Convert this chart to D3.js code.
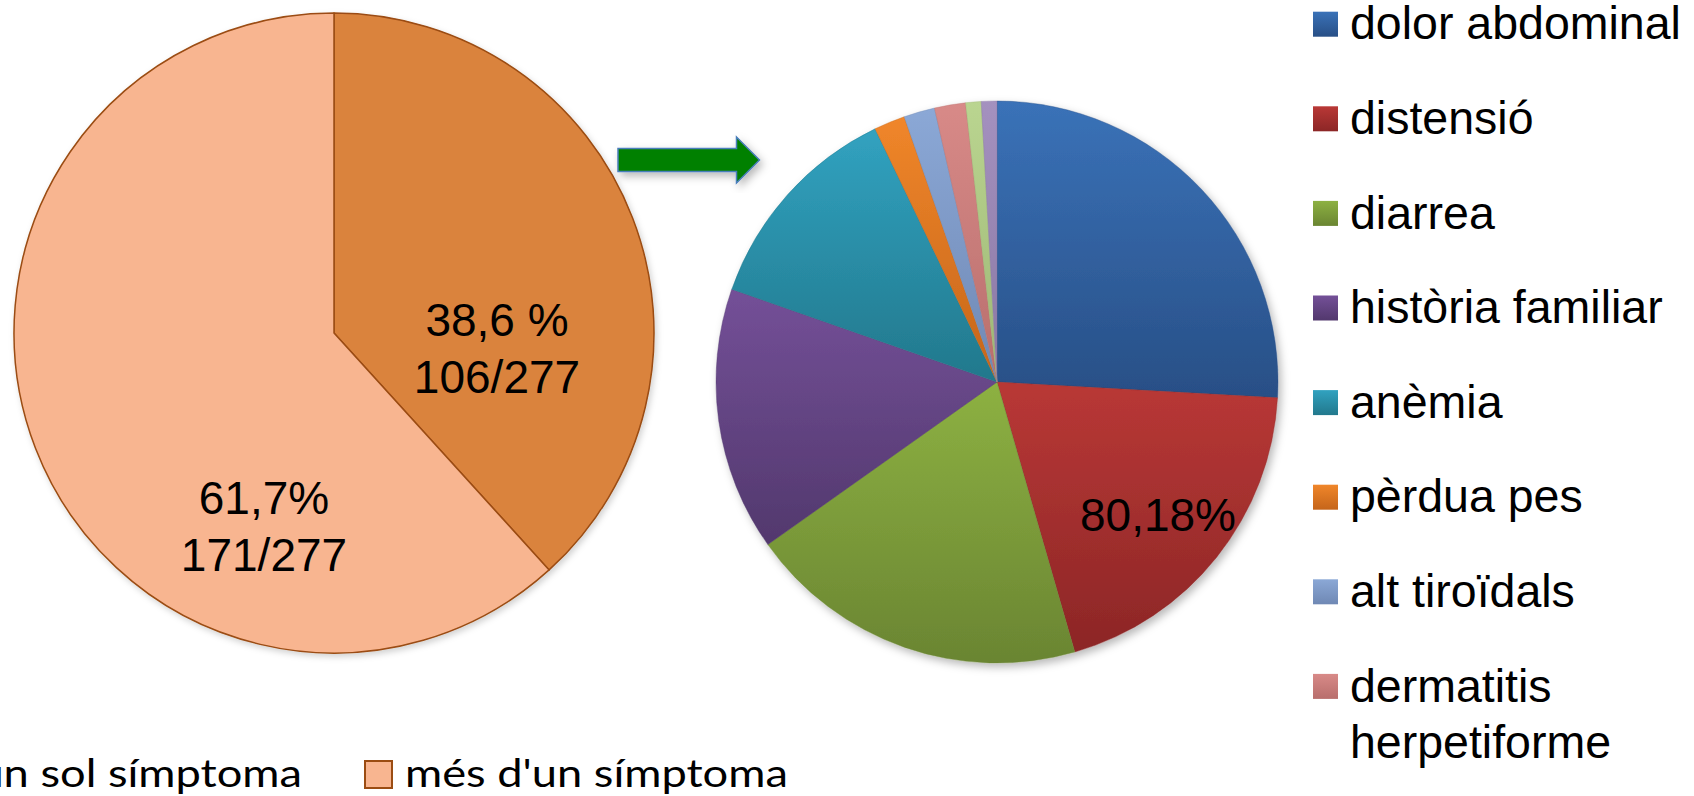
<!DOCTYPE html>
<html>
<head>
<meta charset="utf-8">
<script src="https://cdn.jsdelivr.net/npm/d3@7"></script>
<style>
  html, body { margin: 0; padding: 0; background: #ffffff; overflow: hidden; }
  svg { display: block; }
</style>
</head>
<body>
<svg id="chart" width="1694" height="796"></svg>
<script>
// Patients with a single symptom vs. more than one symptom
const groupLabels = ["un sol símptoma", "més d'un símptoma"];
const groupCounts = [106, 171];
const groupTotal = 277;
const groupPercentLabels = ["38,6 %", "61,7%"];

// Breakdown of presenting symptoms
const symptomLabels = [
  "dolor abdominal", "distensió", "diarrea", "història familiar", "anèmia",
  "pèrdua pes", "alt tiroïdals", "dermatitis herpetiforme"
];
const symptomCounts = [29, 22, 22, 17, 14, 2, 2, 2, 1, 1];
const symptomNote = "80,18%";

// Colours
const groupColors = ["#DA833E", "#F8B590"];
const groupStroke = "#9B4C12";
const symptomTop = ["#3A72B8", "#B93836", "#8DB142", "#745098", "#31A2C0",
                    "#F0862A", "#8BA8D6", "#D88A88", "#BAD590", "#A491BF"];
const symptomBottom = ["#284F86", "#8C2626", "#6A8532", "#52386D", "#22788C",
                       "#C5651A", "#6F88B4", "#B86E6C", "#9DB675", "#8A78A3"];

const svg = d3.select("#chart");
const defs = svg.append("defs");

// soft drop shadow under the pies and the arrow
const shadow = defs.append("filter").attr("id", "shadow")
  .attr("x", "-10%").attr("y", "-10%").attr("width", "130%").attr("height", "130%");
shadow.append("feDropShadow").attr("dx", 3).attr("dy", 4)
  .attr("stdDeviation", 4).attr("flood-color", "#000").attr("flood-opacity", 0.28);

const shadowLight = defs.append("filter").attr("id", "shadowLight")
  .attr("x", "-10%").attr("y", "-10%").attr("width", "130%").attr("height", "130%");
shadowLight.append("feDropShadow").attr("dx", 2).attr("dy", 3)
  .attr("stdDeviation", 3).attr("flood-color", "#000").attr("flood-opacity", 0.18);

// vertical gradients for each symptom colour
symptomTop.forEach((c, i) => {
  const g = defs.append("linearGradient").attr("id", "sg" + i)
    .attr("x1", 0).attr("y1", 0).attr("x2", 0).attr("y2", 1);
  g.append("stop").attr("offset", "0%").attr("stop-color", c);
  g.append("stop").attr("offset", "100%").attr("stop-color", symptomBottom[i]);
});

const pie = d3.pie().sort(null).value(d => d);

// ---------- left pie: one symptom vs. several ----------
const leftCx = 334, leftCy = 333, leftR = 320;
const leftArc = d3.arc().innerRadius(0).outerRadius(leftR);
const left = svg.append("g")
  .attr("transform", `translate(${leftCx},${leftCy})`)
  .attr("filter", "url(#shadowLight)");

left.selectAll("path")
  .data(pie(groupCounts))
  .join("path")
  .attr("d", leftArc)
  .attr("fill", (d, i) => groupColors[i])
  .attr("stroke", groupStroke)
  .attr("stroke-width", 1.5)
  .attr("stroke-linejoin", "round");

// slice labels: percentage and count over total
const leftLabelPos = [[163, 336], [-70, 514]];
const leftLabels = svg.append("g")
  .attr("transform", `translate(${leftCx},0)`)
  .attr("font-family", "'Liberation Sans', Arial, sans-serif")
  .attr("font-size", 46)
  .attr("fill", "#000")
  .attr("text-anchor", "middle");
groupCounts.forEach((v, i) => {
  const t = leftLabels.append("text")
    .attr("x", leftLabelPos[i][0]).attr("y", leftLabelPos[i][1]);
  t.append("tspan").attr("x", leftLabelPos[i][0]).text(groupPercentLabels[i]);
  t.append("tspan").attr("x", leftLabelPos[i][0]).attr("dy", 57).text(`${v}/${groupTotal}`);
});

// ---------- arrow linking the two pies ----------
const arrow = d3.path();
arrow.moveTo(618, 148.5);
arrow.lineTo(736.5, 148.5);
arrow.lineTo(736.5, 137);
arrow.lineTo(759.5, 160);
arrow.lineTo(736.5, 183);
arrow.lineTo(736.5, 171.5);
arrow.lineTo(618, 171.5);
arrow.closePath();
svg.append("path")
  .attr("d", arrow.toString())
  .attr("fill", "#008000")
  .attr("stroke", "#4A7EBB")
  .attr("stroke-width", 1.5)
  .attr("filter", "url(#shadow)");

// ---------- right pie: symptom breakdown ----------
const rightCx = 997, rightCy = 382, rightR = 281;
const rightArc = d3.arc().innerRadius(0).outerRadius(rightR);
const right = svg.append("g")
  .attr("transform", `translate(${rightCx},${rightCy})`)
  .attr("filter", "url(#shadow)");

right.selectAll("path")
  .data(pie(symptomCounts))
  .join("path")
  .attr("d", rightArc)
  .attr("fill", (d, i) => `url(#sg${i})`)
  .attr("stroke", (d, i) => symptomBottom[i])
  .attr("stroke-width", 0.4);

svg.append("text")
  .attr("x", rightCx + 83).attr("y", rightCy + 149)
  .attr("font-family", "'Liberation Sans', Arial, sans-serif")
  .attr("font-size", 46)
  .attr("fill", "#000")
  .text(symptomNote);

// ---------- right legend ----------
const legendX = 1313, legendY = 11.7, legendStep = 94.6, lineStep = 57;
const legendMaxWidth = 1694 - (legendX + 37) - 2;
const legend = svg.append("g")
  .attr("transform", `translate(${legendX},${legendY})`)
  .attr("font-family", "'Liberation Sans', Arial, sans-serif")
  .attr("font-size", 46.5)
  .attr("fill", "#000");

symptomLabels.forEach((label, i) => {
  const item = legend.append("g").attr("transform", `translate(0,${i * legendStep})`);
  item.append("rect")
    .attr("width", 25).attr("height", 25)
    .attr("fill", `url(#sg${i})`);
  const text = item.append("text").attr("x", 37).attr("y", 27.6);
  // wrap long labels onto further lines
  const words = label.split(" ");
  let line = [];
  let tspan = text.append("tspan").attr("x", 37);
  words.forEach(w => {
    line.push(w);
    tspan.text(line.join(" "));
    if (tspan.node().getComputedTextLength() > legendMaxWidth && line.length > 1) {
      line.pop();
      tspan.text(line.join(" "));
      line = [w];
      tspan = text.append("tspan").attr("x", 37).attr("dy", lineStep).text(w);
    }
  });
});

// ---------- bottom legend ----------
const bottomY = 761, boxSize = 27, boxGap = 13;
const bottom = svg.append("g")
  .attr("font-family", "Lato, 'Open Sans', sans-serif")
  .attr("font-size", 39)
  .attr("fill", "#000");

// the legend font is drawn slightly widened
const textStretch = 1.16;

// second entry starts at a fixed x; the first entry sits to its left
const secondX = 365;
bottom.append("g")
  .attr("transform", `translate(${secondX + boxSize + boxGap},${bottomY + 26}) scale(${textStretch},1)`)
  .append("text")
  .text(groupLabels[1]);
bottom.append("rect")
  .attr("x", secondX).attr("y", bottomY)
  .attr("width", boxSize).attr("height", boxSize)
  .attr("fill", groupColors[1]).attr("stroke", groupStroke).attr("stroke-width", 2);

const firstEnd = secondX - 63;
const t1 = bottom.append("g")
  .attr("transform", `translate(${firstEnd},${bottomY + 26}) scale(${textStretch},1)`)
  .append("text")
  .attr("text-anchor", "end")
  .text(groupLabels[0]);
const w1 = t1.node().getComputedTextLength() * textStretch;
bottom.append("rect")
  .attr("x", firstEnd - w1 - boxGap - boxSize).attr("y", bottomY)
  .attr("width", boxSize).attr("height", boxSize)
  .attr("fill", groupColors[0]).attr("stroke", groupStroke).attr("stroke-width", 2);
</script>
</body>
</html>
